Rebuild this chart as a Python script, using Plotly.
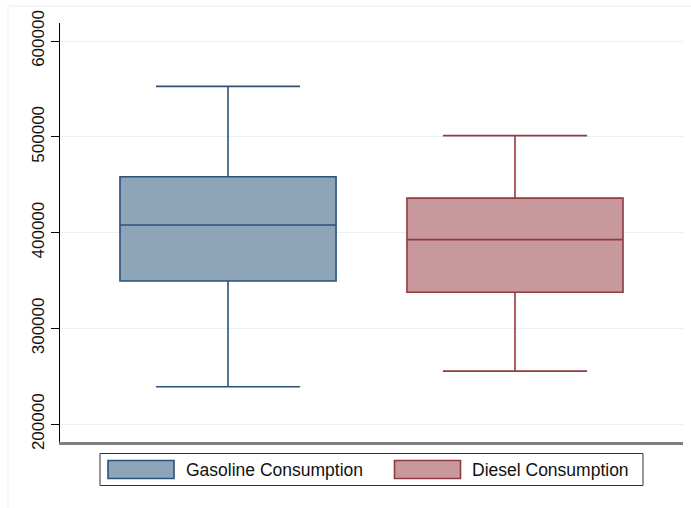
import plotly.graph_objects as go

# Five-number summaries for each fuel type
series_names = ["Gasoline Consumption", "Diesel Consumption"]
positions = [0, 1]
lower_whisker = [239200, 255500]
q1_values = [349600, 337800]
median_values = [407900, 392700]
q3_values = [458300, 436000]
upper_whisker = [552700, 501300]
y_ticks = [200000, 300000, 400000, 500000, 600000]

line_colors = ["#2a5379", "#923a42"]
fill_colors = ["#8ea5b9", "#c8999c"]

W, H = 691, 508
M_L, M_R, M_T, M_B = 60, 8, 23, 66
PW, PH = W - M_L - M_R, H - M_T - M_B


def px_x(p):
    return (p - M_L) / PW


def px_y(p):
    return (H - M_B - p) / PH


fig = go.Figure()
for i in range(len(series_names)):
    fig.add_trace(go.Box(
        name=series_names[i],
        x=[positions[i]],
        q1=[q1_values[i]],
        median=[median_values[i]],
        q3=[q3_values[i]],
        lowerfence=[lower_whisker[i]],
        upperfence=[upper_whisker[i]],
        width=0.753,
        whiskerwidth=0.667,
        fillcolor=fill_colors[i],
        line=dict(color=line_colors[i], width=1.6),
        boxpoints=False,
        showlegend=False,
        hoverinfo="skip",
    ))

font_family = "Liberation Sans, Arial, sans-serif"

# Outer graph-region outline
shapes = [dict(type="rect", xref="paper", yref="paper",
               x0=px_x(8), x1=px_x(W + 20), y0=px_y(W), y1=px_y(6),
               line=dict(color="#e6edf1", width=1), fillcolor="rgba(0,0,0,0)",
               layer="below")]

# Legend frame and swatches
lg_x0, lg_x1, lg_y0, lg_y1 = 100, 643, 453.5, 485.5
shapes.append(dict(type="rect", xref="paper", yref="paper",
                   x0=px_x(lg_x0), x1=px_x(lg_x1), y0=px_y(lg_y1), y1=px_y(lg_y0),
                   line=dict(color="#333333", width=1), fillcolor="white"))
swatch_x = [108, 394.5]
text_x = [184, 470]
annotations = []
for i in range(len(series_names)):
    shapes.append(dict(type="rect", xref="paper", yref="paper",
                       x0=px_x(swatch_x[i]), x1=px_x(swatch_x[i] + 66),
                       y0=px_y(478.5), y1=px_y(460.5),
                       line=dict(color=line_colors[i], width=1.6),
                       fillcolor=fill_colors[i]))
    annotations.append(dict(xref="paper", yref="paper",
                            x=px_x(text_x[i]), y=px_y(469.5),
                            xanchor="left", yanchor="middle", showarrow=False,
                            text=series_names[i],
                            font=dict(family=font_family, size=17.5, color="#111111")))

fig.update_layout(
    width=W, height=H,
    margin=dict(l=M_L, r=M_R, t=M_T, b=M_B, pad=0),
    paper_bgcolor="white", plot_bgcolor="white",
    boxmode="overlay",
    shapes=shapes,
    annotations=annotations,
    font=dict(family=font_family, size=17, color="#111111"),
    xaxis=dict(range=[-0.5855, 1.5855], showgrid=False, zeroline=False,
               showticklabels=False, ticks="",
               showline=True, linecolor="#7f7f7f", linewidth=2.5),
    yaxis=dict(range=[181500, 618800], tickvals=y_ticks,
               ticktext=[str(v) for v in y_ticks],
               tickangle=-90, ticks="outside", ticklen=8, tickcolor="#000000",
               tickwidth=1, showgrid=True, gridcolor="#eaf1f3", gridwidth=1,
               zeroline=False, showline=True, linecolor="#000000", linewidth=1,
               tickfont=dict(family=font_family, size=17, color="#111111")),
)

fig.write_html("out.html")
